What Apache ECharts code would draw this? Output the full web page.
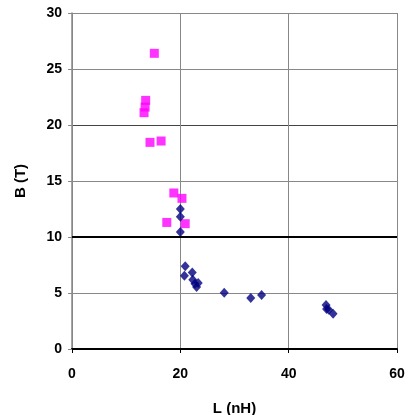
<!DOCTYPE html>
<html>
<head>
<meta charset="utf-8">
<script src="https://cdn.jsdelivr.net/npm/echarts@6/dist/echarts.min.js"></script>
<style>
  html, body { margin: 0; padding: 0; background: #fff; }
  #chart { width: 411px; height: 415px; }
</style>
</head>
<body>
<div id="chart"></div>
<script>
// pink squares (L nH, B T)
var pinkPoints = [
  [15.2, 26.4], [13.6, 22.2], [13.5, 21.6], [13.3, 21.1],
  [14.4, 18.45], [16.45, 18.57], [18.8, 13.93], [20.3, 13.45],
  [17.5, 11.3], [20.9, 11.19]
];
// navy diamonds
var navyPoints = [
  [20.0, 12.5], [20.0, 11.8], [20.0, 10.45], [20.9, 7.38], [20.75, 6.55],
  [22.2, 6.84], [22.3, 6.19], [22.7, 5.83], [23.0, 5.53], [23.3, 5.9],
  [28.1, 5.03], [33.0, 4.55], [35.0, 4.82], [46.9, 3.93], [47.0, 3.57],
  [47.4, 3.5], [48.2, 3.15]
];
var xTicks = [0, 20, 40, 60];
var yTicks = [0, 5, 10, 15, 20, 25, 30];

var chart = echarts.init(document.getElementById('chart'));
var font = 'Liberation Sans, Arial, sans-serif';

chart.setOption({
  animation: false,
  grid: { left: 72, right: 14, top: 13, bottom: 66, containLabel: false, outerBoundsMode: 'none' },
  xAxis: {
    type: 'value', min: 0, max: 60, interval: 20,
    name: 'L (nH)', nameLocation: 'middle', nameGap: 52,
    nameTextStyle: { fontFamily: font, fontWeight: 'bold', fontSize: 15, color: '#000' },
    axisLine: { onZero: false, lineStyle: { color: '#000', width: 2 } },
    axisTick: { show: true, length: 4, lineStyle: { color: '#000' } },
    axisLabel: { fontFamily: font, fontWeight: 'bold', fontSize: 14, color: '#000', margin: 18,
      formatter: function (v) { return xTicks.indexOf(v) >= 0 ? String(v) : ''; } },
    splitLine: { show: true, lineStyle: { color: '#888', width: 1 } }
  },
  yAxis: {
    type: 'value', min: 0, max: 30, interval: 5,
    name: 'B (T)', nameLocation: 'middle', nameGap: 44, nameRotate: 90,
    nameTextStyle: { fontFamily: font, fontWeight: 'bold', fontSize: 15, color: '#000' },
    axisLine: { show: true, lineStyle: { color: '#888', width: 1.5 } },
    axisTick: { show: true, length: 4, lineStyle: { color: '#888' } },
    axisLabel: { fontFamily: font, fontWeight: 'bold', fontSize: 14, color: '#000', margin: 10,
      formatter: function (v) { return yTicks.indexOf(v) >= 0 ? String(v) : ''; } },
    splitLine: { show: true, lineStyle: { color: ['#000', '#888', '#000', '#888', '#444', '#888', '#888'], width: 1 } }
  },
  series: [
    {
      type: 'scatter', data: pinkPoints, symbol: 'rect', symbolSize: 9,
      itemStyle: { color: '#FF00FF' },
      markLine: {
        silent: true, symbol: 'none', label: { show: false },
        lineStyle: { color: '#000', width: 2, type: 'solid' },
        data: [{ yAxis: 10 }]
      }
    },
    {
      type: 'scatter', data: navyPoints, symbol: 'diamond', symbolSize: [9, 10],
      itemStyle: { color: '#000080' }
    }
  ]
});
</script>
</body>
</html>
